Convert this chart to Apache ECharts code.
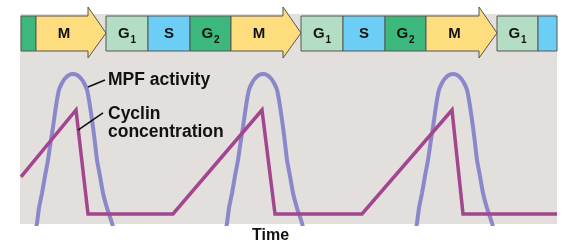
<!DOCTYPE html>
<html><head><meta charset="utf-8">
<script src="https://cdn.jsdelivr.net/npm/echarts@6/dist/echarts.min.js"></script>
<style>html,body{margin:0;padding:0;background:#fff}#c{width:579px;height:240px}</style>
</head><body><div id="c"></div>
<script>
// Cell-cycle phase strip (time units along the x axis)
const phaseNames  = ['G2','M','G1','S','G2','M','G1','S','G2','M','G1','S'];
const phaseLabels = ['','M','G1','S','G2','M','G1','S','G2','M','G1',''];
const phaseStart  = [0,15,85,127,169,210,280,322,364,405,476,517];
const phaseEnd    = [15,85,127,169,210,280,322,364,405,476,517,536];

// MPF activity (three pulses; gaps where the curve is below the visible range)
const mpfX = [13,16,18,21,24,27,29.5,32,34,36,38,41,44,48,52,56,60,63,66,68,70,72,74,76,79,82,86,91,95,
              null,
              203,206,208,211,214,217,219.5,222,224,226,228,231,234,238,242,246,250,253,256,258,260,262,264,266,269,272,276,281,285,
              null,
              393,396,398,401,404,407,409.5,412,414,416,418,421,424,428,432,436,440,443,446,448,450,452,454,456,459,462,466,471,475];
const mpfY = [-9.2,0.6,9.2,17.9,27.7,37.0,46.8,56.1,64.2,71.7,77.5,81.5,84.1,86.1,86.7,86.1,84.1,81.5,77.5,71.7,64.2,56.1,46.8,37.0,27.7,17.9,9.2,0.6,-9.2,
              null,
              -9.2,0.6,9.2,17.9,27.7,37.0,46.8,56.1,64.2,71.7,77.5,81.5,84.1,86.1,86.7,86.1,84.1,81.5,77.5,71.7,64.2,56.1,46.8,37.0,27.7,17.9,9.2,0.6,-9.2,
              null,
              -9.2,0.6,9.2,17.9,27.7,37.0,46.8,56.1,64.2,71.7,77.5,81.5,84.1,86.1,86.7,86.1,84.1,81.5,77.5,71.7,64.2,56.1,46.8,37.0,27.7,17.9,9.2,0.6,-9.2];

// Cyclin concentration
const cyclinX = [0,55,67,152,241,254,341,431,442,536];
const cyclinY = [27.2,65.9,5.8,5.8,65.9,5.8,5.8,65.9,5.8,5.8];

// Annotation leader lines [x1,y1,x2,y2] in data units
const leaders = [[67,79.2,84,83.2],[57,54.3,82,64.2]];

const phaseColors = {G2:'#3db87c', M:'#fedd7e', G1:'#b4dec3', S:'#6ccef5'};
const TXT = '#111';
const FONT = 'Liberation Sans, Arial, sans-serif';

function renderPhase(params, api){
  const s = api.value(0), e = api.value(1), idx = api.value(2);
  const name = phaseNames[idx], label = phaseLabels[idx];
  const p0 = api.coord([s,1]), p1 = api.coord([e,0]);
  const x0 = p0[0], y0 = p0[1], x1 = p1[0], y1 = p1[1];
  const style = {fill: phaseColors[name], stroke:'#565656', lineWidth:1};
  const children = [];
  let cx = (x0+x1)/2;
  const cy = (y0+y1)/2;
  if (name === 'M') {
    const head = 18, over = 9, under = 7;
    const mid = cy - 0.5;
    children.push({type:'polygon', shape:{points:[[x0,y0],[x1-head,y0],[x1-head,y0-over],[x1,mid],[x1-head,y1+under],[x1-head,y1],[x0,y1]]}, style});
    cx = (x0 + x1 - head)/2 + 2;
  } else {
    children.push({type:'rect', shape:{x:x0, y:y0, width:x1-x0, height:y1-y0}, style});
  }
  if (label) {
    let text;
    if (label.length === 2) text = '{g|G}{s|' + label[1] + '}';
    else text = '{g|' + label + '}';
    children.push({type:'text', z2:10, style:{
      text, x: cx, y: cy, align:'center', verticalAlign:'middle',
      rich:{
        g:{fontSize:15, fontWeight:'bold', fontFamily:FONT, fill:TXT, lineHeight:18},
        s:{fontSize:10, fontWeight:'bold', fontFamily:FONT, fill:TXT, lineHeight:18, padding:[13,0,0,1]}
      }
    }});
  }
  return {type:'group', children};
}

const chart = echarts.init(document.getElementById('c'), null, {renderer:'canvas'});
chart.setOption({
  animation:false,
  backgroundColor:'#ffffff',
  grid:[
    {left:21, right:22, top:16, height:35},
    {left:21, right:22, top:51, bottom:16}
  ],
  xAxis:[
    {gridIndex:0, type:'value', min:0, max:536, show:false},
    {gridIndex:1, type:'value', min:0, max:536, show:false}
  ],
  yAxis:[
    {gridIndex:0, type:'value', min:0, max:1, show:false},
    {gridIndex:1, type:'value', min:0, max:100, show:false}
  ],
  graphic:{elements:[
    {type:'rect', z:-10, silent:true, shape:{x:20, y:14, width:537, height:210}, style:{fill:'#e2dfdd'}},
    {type:'text', left:108, top:71, style:{text:'MPF activity', font:'bold 17.5px '+FONT, fill:TXT}},
    {type:'text', left:108, top:105, style:{text:'Cyclin', font:'bold 17.5px '+FONT, fill:TXT}},
    {type:'text', left:108, top:123, style:{text:'concentration', font:'bold 17.5px '+FONT, fill:TXT}},
    {type:'text', left:252, top:228, style:{text:'Time', font:'bold 16px '+FONT, fill:TXT}}
  ]},
  series:[
    {
      type:'custom', xAxisIndex:0, yAxisIndex:0, clip:false, z:5,
      renderItem: renderPhase,
      data: phaseNames.map((n,i)=>[phaseStart[i], phaseEnd[i], i])
    },
    {
      type:'line', xAxisIndex:1, yAxisIndex:1, name:'MPF activity',
      data: mpfX.map((x,i)=> x===null ? [null,null] : [x, mpfY[i]]),
      smooth:0.2, showSymbol:false, connectNulls:false, clip:true,
      lineStyle:{color:'#8a88ca', width:4}
    },
    {
      type:'line', xAxisIndex:1, yAxisIndex:1, name:'Cyclin concentration',
      data: cyclinX.map((x,i)=>[x, cyclinY[i]]),
      showSymbol:false, clip:true,
      lineStyle:{color:'#a3468f', width:3.5, join:'miter'},
      markLine:{
        silent:true, symbol:['none','none'], label:{show:false},
        lineStyle:{color:'#111', width:1.6, type:'solid'},
        data: leaders.map(l=>[{coord:[l[0],l[1]]},{coord:[l[2],l[3]]}])
      }
    }
  ]
});
</script></body></html>
